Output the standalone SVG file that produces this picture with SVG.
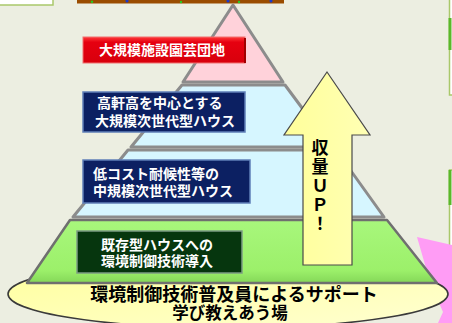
<svg xmlns="http://www.w3.org/2000/svg" width="452" height="323" viewBox="0 0 452 323">
<defs>
<style>
.layer{stroke:#8c8c8c;stroke-width:3;stroke-linejoin:round}
.bt{font-family:"Liberation Sans","Noto Sans CJK JP",sans-serif;font-weight:bold;font-size:14px;fill:#ffffff}
.kt{font-family:"Noto Sans CJK JP","Liberation Sans",sans-serif;font-weight:bold;fill:#000000}
.navy{fill:#0c2062;stroke:#5f7fb8;stroke-width:1.5}
</style>
<linearGradient id="gGreen" x1="0" y1="0" x2="0" y2="1">
<stop offset="0" stop-color="#a8f77c"/>
<stop offset="0.8" stop-color="#9cf06a"/>
<stop offset="1" stop-color="#84d758"/>
</linearGradient>
<linearGradient id="gEll" x1="0" y1="0" x2="1" y2="1">
<stop offset="0" stop-color="#ffff9c"/>
<stop offset="1" stop-color="#ffffd2"/>
</linearGradient>
<linearGradient id="gArrow" x1="0" y1="0" x2="1" y2="0">
<stop offset="0" stop-color="#ffff9a"/>
<stop offset="1" stop-color="#ffffb4"/>
</linearGradient>
<linearGradient id="gRed" x1="0" y1="0" x2="0" y2="1">
<stop offset="0" stop-color="#ff3a3a"/>
<stop offset="0.2" stop-color="#e60010"/>
<stop offset="1" stop-color="#d8000c"/>
</linearGradient>
</defs>
<rect width="452" height="323" fill="#eceee1"/>

<g id="frame-topleft">
<rect x="-2" y="-2" width="55" height="7" fill="#ffffff" stroke="#a9c86a" stroke-width="1.5"/>
</g>
<g id="brown-bar">
<rect x="77" y="-1" width="207" height="4.5" fill="#9a4c00"/>
<circle cx="92" cy="1.8" r="1.2" fill="#22cc22"/>
<circle cx="127" cy="1" r="1.5" fill="#1a3acc"/>
<circle cx="181" cy="2" r="1.2" fill="#22cc22"/>
<circle cx="228" cy="1" r="1.5" fill="#1a3acc"/>
<circle cx="239" cy="2" r="1.2" fill="#22cc22"/>
<circle cx="271" cy="1" r="1.5" fill="#1a3acc"/>
</g>
<g id="frame-right">
<rect x="449.5" y="-2" width="10" height="97" fill="#ffffff" stroke="#a9c86a" stroke-width="1.5"/>
<line x1="450" y1="18" x2="450" y2="50" stroke="#5ab82a" stroke-width="3"/>
<rect x="449.5" y="170" width="10" height="78" fill="#ffffff" stroke="#a9c86a" stroke-width="1.5"/>
<line x1="450" y1="170" x2="450" y2="205" stroke="#5ab82a" stroke-width="3"/>
</g>
<g id="pink-star">
<polygon points="417,237 452,245 452,323 438,323 443,312 430,282" fill="#ff9cf5"/>
</g>

<g id="base-ellipse">
<ellipse cx="228" cy="294" rx="220" ry="34" fill="url(#gEll)" stroke="#3a3a3a" stroke-width="1.6"/>
</g>

<g id="pyramid">
<polygon id="layer-pink" class="layer" points="233,5 283,82 183,82" fill="#ffd2da"/>
<polygon id="layer-cyan1" class="layer" points="182,85 285,85 331,147 131,147" fill="#d6f6ff"/>
<polygon id="layer-cyan2" class="layer" points="128,150 336,150 384,217 73,217" fill="#d6f6ff"/>
<polygon id="layer-green" points="70,220 387,220 437,283 27,283" fill="url(#gGreen)" stroke="#6f6f6f" stroke-width="2.5" stroke-linejoin="round"/>
</g>

<g id="box-red">
<rect x="83" y="37" width="162" height="26" fill="url(#gRed)" stroke="#f07070" stroke-width="1"/>
<line x1="245" y1="38" x2="245" y2="63" stroke="#a00000" stroke-width="2"/>
<text class="bt" x="162" y="55" text-anchor="middle">大規模施設園芸団地</text>
</g>
<g id="box-navy1">
<rect class="navy" x="83" y="92" width="162" height="40"/>
<text class="bt" x="97" y="108">高軒高を中心とする</text>
<text class="bt" x="95" y="126">大規模次世代型ハウス</text>
</g>
<g id="box-navy2">
<rect class="navy" x="83" y="160" width="167" height="43"/>
<text class="bt" x="93" y="179">低コスト耐候性等の</text>
<text class="bt" x="93" y="196">中規模次世代型ハウス</text>
</g>
<g id="box-green">
<rect x="77" y="231" width="165" height="42" fill="#06360e" stroke="#7c9c84" stroke-width="1.5"/>
<text class="bt" x="157" y="250" text-anchor="middle" fill="#f2f2f2">既存型ハウスへの</text>
<text class="bt" x="157" y="266" text-anchor="middle" fill="#f2f2f2">環境制御技術導入</text>
</g>

<g id="arrow-up">
<polygon points="327,72 370,135 352,135 352,265 303,265 303,135 284,135" fill="url(#gArrow)" stroke="#4a4a4a" stroke-width="1.2" stroke-linejoin="miter"/>
<text class="kt" font-size="17" x="320" y="139" writing-mode="vertical-rl" letter-spacing="2">収量ＵＰ！</text>
</g>

<g id="base-label">
<text class="kt" font-size="18" text-anchor="middle"><tspan x="234" y="301">環境制御技術普及員によるサポート</tspan><tspan x="230" y="319" font-size="16.5">学び教えあう場</tspan></text>
</g>
</svg>
